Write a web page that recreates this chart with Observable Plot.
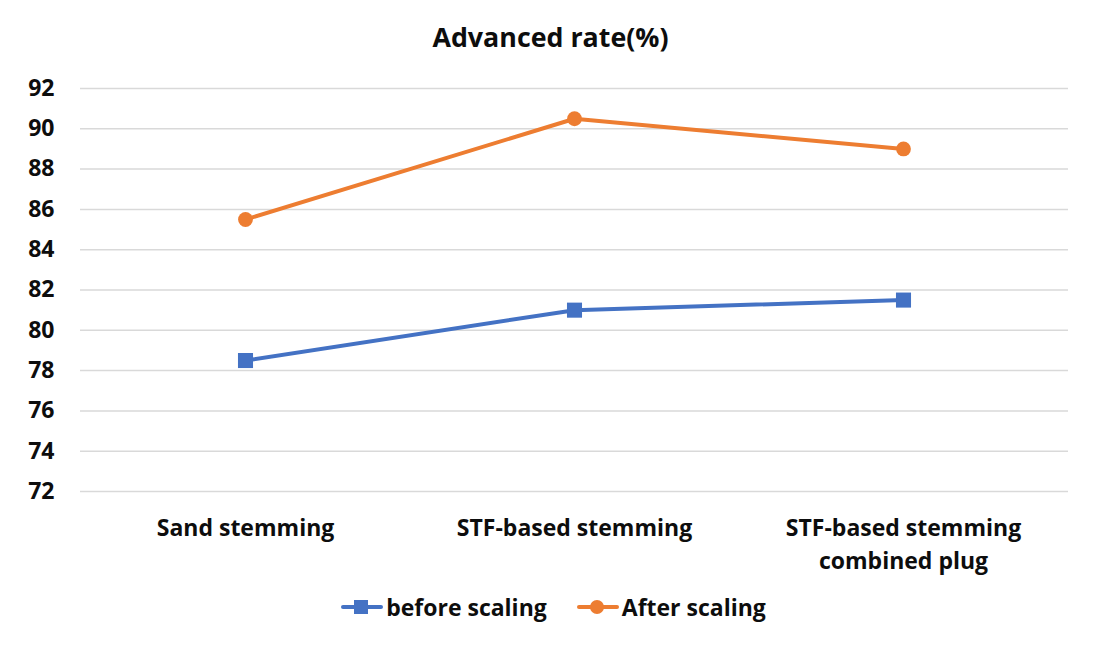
<!DOCTYPE html>
<html>
<head>
<meta charset="utf-8">
<script src="https://cdn.jsdelivr.net/npm/d3@7"></script>
<script src="https://cdn.jsdelivr.net/npm/@observablehq/plot@0.6"></script>
<style>
  html, body { margin: 0; padding: 0; background: #fff; }
  body { width: 1101px; height: 661px; overflow: hidden; font-family: "Open Sans", "Noto Sans", sans-serif; font-weight: 700; color: #0d0d0d; }
  #title { height: 55px; box-sizing: border-box; padding-top: 20px; text-align: center; font-size: 26.8px; line-height: 34px; }
  #legend { display: flex; justify-content: center; align-items: center; gap: 30px; font-size: 23px; margin-top: 11px; padding-left: 6px; }
  .item { display: flex; align-items: center; gap: 3px; }
  svg { display: block; }
</style>
</head>
<body>
<div id="title">Advanced rate(%)</div>
<div id="chart"></div>
<div id="legend"></div>
<script>
const categories = ["Sand stemming", "STF-based stemming", "STF-based stemming\ncombined plug"];
const beforeScaling = [78.5, 81, 81.5];
const afterScaling = [85.5, 90.5, 89];
const yTicks = [72, 74, 76, 78, 80, 82, 84, 86, 88, 90, 92];
const seriesNames = ["before scaling", "After scaling"];
const seriesColors = ["#4472C4", "#ED7D31"];

const beforeData = categories.map((c, i) => ({cat: c, v: beforeScaling[i]}));
const afterData = categories.map((c, i) => ({cat: c, v: afterScaling[i]}));

const font = "'Open Sans', 'Noto Sans', sans-serif";

const chart = Plot.plot({
  width: 1101,
  height: 525,
  marginLeft: 80,
  marginRight: 33,
  marginTop: 33,
  marginBottom: 89,
  style: {fontFamily: font, fontSize: "23px", fontWeight: 700, color: "#0d0d0d", background: "#fff"},
  x: {type: "point", domain: categories, padding: 0.5, label: null},
  y: {domain: [72, 92], label: null},
  marks: [
    Plot.gridY(yTicks, {stroke: "#d9d9d9", strokeOpacity: 1, strokeWidth: 1.5}),
    Plot.axisY(yTicks, {tickSize: 0, tickPadding: 26, label: null, fontSize: 23, fontWeight: 700}),
    Plot.axisX({tickSize: 0, tickPadding: 22, label: null, lineHeight: 1.4, fontSize: 23, fontWeight: 700}),
    Plot.lineY(beforeData, {x: "cat", y: "v", stroke: seriesColors[0], strokeWidth: 4}),
    Plot.lineY(afterData, {x: "cat", y: "v", stroke: seriesColors[1], strokeWidth: 4}),
    Plot.dot(beforeData, {x: "cat", y: "v", symbol: "square", r: 8.5, fill: seriesColors[0], stroke: "none"}),
    Plot.dot(afterData, {x: "cat", y: "v", symbol: "circle", r: 7.4, fill: seriesColors[1], stroke: "none"})
  ]
});
document.getElementById("chart").appendChild(chart);

const legend = document.getElementById("legend");
seriesNames.forEach((name, i) => {
  const item = document.createElement("div");
  item.className = "item";
  const sym = i === 0
    ? `<rect x="13" y="4" width="14" height="14" fill="${seriesColors[i]}"/>`
    : `<circle cx="20" cy="11" r="7" fill="${seriesColors[i]}"/>`;
  item.innerHTML = `<svg width="42" height="22"><line x1="2" x2="40" y1="11" y2="11" stroke="${seriesColors[i]}" stroke-width="4" stroke-linecap="round"/>${sym}</svg><span>${name}</span>`;
  legend.appendChild(item);
});
</script>
</body>
</html>
